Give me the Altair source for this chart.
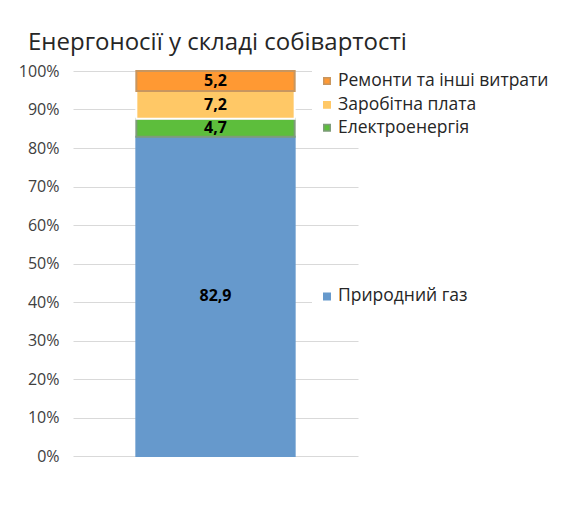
import altair as alt
import pandas as pd

series = ["Природний газ", "Електроенергія", "Заробітна плата", "Ремонти та інші витрати"]
values = [82.9, 4.7, 7.2, 5.2]
labels = ["82,9", "4,7", "7,2", "5,2"]
fills = ["#6699CC", "#5DBE3C", "#FFC866", "#FF9933"]
strokes = ["#6699CC", "#7E9C7A", "#FFFFFF", "#C8965F"]
sq_strokes = ["#6699CC", "#7E9C7A", "#FFC866", "#C8965F"]
y_ticks = [0, 10, 20, 30, 40, 50, 60, 70, 80, 90, 100]

FONT = "Open Sans"

df = pd.DataFrame({
    "cat": ["A"] * len(series),
    "series": series,
    "value": values,
    "label": labels,
    "ord": list(range(len(series))),
})

base = alt.Chart(df).transform_window(
    cum="sum(value)", sort=[alt.SortField("ord")], frame=[None, 0]
).transform_calculate(
    mid="datum.cum - datum.value / 2",
    lo="datum.cum - datum.value / 2 - 3",
    hi="datum.cum - datum.value / 2 + 3",
)

yscale = alt.Scale(domain=[0, 100], nice=False)
yaxis = alt.Axis(values=y_ticks, labelExpr="datum.value + '%'",
                 domain=False, ticks=False, grid=True, labelOverlap=False,
                 gridColor="#D9D9D9", gridWidth=1,
                 labelFont=FONT, labelFontSize=16,
                 labelColor="#404040", labelPadding=14,
                 title=None)

xenc = alt.X("cat:N", axis=None,
             scale=alt.Scale(paddingInner=0, paddingOuter=0.4))

bars = alt.Chart(df).mark_bar(strokeWidth=2).encode(
    x=xenc,
    y=alt.Y("value:Q", stack="zero", scale=yscale, axis=yaxis),
    order=alt.Order("ord:Q"),
    color=alt.Color("series:N", scale=alt.Scale(domain=series, range=fills), legend=None),
    stroke=alt.Stroke("series:N", scale=alt.Scale(domain=series, range=strokes), legend=None),
)

vals = base.mark_text(font=FONT, fontSize=16, fontWeight="bold", color="#000000").encode(
    x=xenc,
    y=alt.Y("mid:Q", scale=yscale, axis=yaxis),
    text="label:N",
)

white_box = base.mark_rect(color="white").encode(
    x=alt.value(239), x2=alt.value(300),
    y=alt.Y("lo:Q", scale=yscale, axis=yaxis), y2="hi:Q",
)

leg_sq = base.mark_square(size=42, opacity=1, filled=True, strokeWidth=1.5).encode(
    x=alt.value(254),
    y=alt.Y("mid:Q", scale=yscale, axis=yaxis),
    color=alt.Color("series:N", scale=alt.Scale(domain=series, range=fills), legend=None),
    stroke=alt.Stroke("series:N", scale=alt.Scale(domain=series, range=sq_strokes), legend=None),
)

leg_txt = base.mark_text(font=FONT, fontSize=17.5, align="left", baseline="middle",
                         color="#262626").encode(
    x=alt.value(265),
    y=alt.Y("mid:Q", scale=yscale, axis=yaxis),
    text="series:N",
)

chart = alt.layer(bars, white_box, vals, leg_sq, leg_txt).resolve_scale(
    stroke="independent"
).properties(
    width=285, height=385,
    padding={"left": 65, "top": 63, "right": 200, "bottom": 30},
    autosize=alt.AutoSizeParams(type="none"),
    title=alt.TitleParams("Енергоносії у складі собівартості", anchor="start",
                          frame="group", dx=-45,
                          offset=8, font=FONT, fontSize=24, fontWeight="normal",
                          color="#262626"),
).configure_view(stroke=None)

chart.save("out.html", embed_options={"renderer": "svg", "actions": False})
